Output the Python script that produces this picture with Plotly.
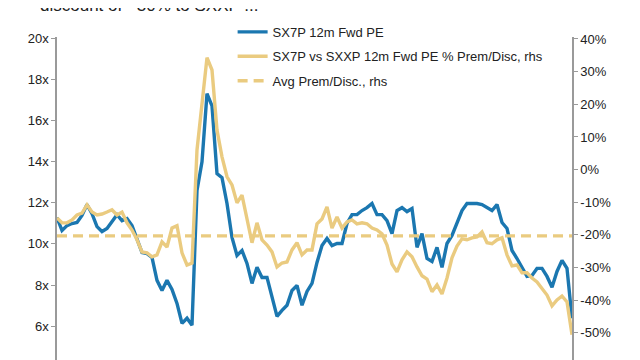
import pandas as pd
import plotly.graph_objects as go

# SX7P 12m forward PE (x)
sx7p_pe = [11.28, 10.65, 10.89, 10.99, 11.04, 11.38, 11.91, 11.47, 10.84, 10.60,
           10.75, 11.09, 11.42, 11.13, 11.23, 10.89, 10.21, 9.58, 9.53, 9.34,
           8.23, 7.74, 8.23, 7.79, 7.11, 6.14, 6.39, 6.05, 12.59, 13.99,
           17.30, 16.70, 13.41, 13.22, 11.96, 10.31, 9.44, 9.68, 9.05, 8.08,
           8.86, 8.37, 8.37, 7.40, 6.48, 6.77, 7.02, 7.74, 7.98, 7.02,
           7.69, 8.08, 9.10, 9.92, 10.26, 9.92, 10.02, 10.02, 10.99, 11.42,
           11.42, 11.62, 11.76, 11.96, 11.42, 11.42, 11.13, 10.50, 11.62, 11.76,
           11.57, 11.72, 9.83, 10.50, 9.29, 9.15, 9.83, 8.86, 10.02, 10.41,
           10.99, 11.62, 11.96, 11.96, 11.96, 11.91, 11.76, 11.62, 11.91, 11.04,
           10.75, 9.68, 9.29, 8.81, 8.42, 8.47, 8.81, 8.81, 8.42, 7.89,
           8.66, 9.20, 8.81, 6.39]

# SX7P vs SXXP 12m forward PE premium/discount (%)
prem_disc = [-14.8, -16.3, -16.3, -15.4, -13.9, -13.3, -10.8, -13.0, -13.9, -13.6,
             -13.0, -12.3, -13.9, -13.0, -16.3, -18.5, -21.5, -25.2, -25.5, -26.7,
             -26.1, -22.1, -23.7, -17.9, -17.2, -25.5, -29.2, -28.6, 6.0, 20.4,
             34.3, 30.5, 12.1, 3.9, -2.2, -4.7, -10.2, -7.8, -14.8, -22.4,
             -16.3, -21.5, -23.1, -25.2, -29.8, -28.6, -28.3, -24.6, -22.4, -26.1,
             -24.6, -24.6, -16.6, -15.1, -11.4, -17.9, -14.5, -17.9, -16.0, -15.4,
             -16.6, -16.3, -16.6, -17.9, -18.5, -19.7, -23.1, -28.9, -31.3, -27.6,
             -25.2, -26.7, -29.8, -32.5, -33.5, -37.4, -35.3, -38.1, -33.2, -27.0,
             -23.4, -21.2, -21.5, -20.9, -20.6, -19.1, -22.4, -22.7, -21.5, -20.9,
             -26.1, -29.5, -29.2, -31.6, -31.6, -33.2, -34.4, -36.2, -38.4, -41.7,
             -39.9, -38.7, -40.5, -50.6]

avg_prem_value = -20.3
avg_prem = [avg_prem_value] * len(prem_disc)

dates = pd.date_range("2004-10-01", "2020-03-20", periods=len(sx7p_pe))

left_ticks = [6, 8, 10, 12, 14, 16, 18, 20]
right_ticks = [-50, -40, -30, -20, -10, 0, 10, 20, 30, 40]

BLUE = "#1B77B0"
GOLD = "#EACB80"
FONT = "Liberation Sans, Arial, sans-serif"

fig = go.Figure()
fig.add_trace(go.Scatter(x=dates, y=sx7p_pe, mode="lines", name="SX7P 12m Fwd PE",
                         line=dict(color=BLUE, width=3.4), legendgroup="a"))
fig.add_trace(go.Scatter(x=dates, y=prem_disc, mode="lines",
                         name="SX7P vs SXXP 12m Fwd PE % Prem/Disc, rhs",
                         line=dict(color=GOLD, width=3.4), yaxis="y2", legendgroup="b"))
fig.add_trace(go.Scatter(x=dates, y=avg_prem, mode="lines", name="Avg Prem/Disc., rhs",
                         line=dict(color=GOLD, width=3.4, dash="10px,6px"), yaxis="y2",
                         legendgroup="c"))

fig.update_layout(
    width=640, height=360, autosize=False,
    margin=dict(l=49, r=76, t=29, b=8),
    paper_bgcolor="white", plot_bgcolor="white",
    font=dict(family=FONT, size=13, color="#222222"),
    showlegend=True,
    legend=dict(x=0.341, y=1.062, xanchor="left", yanchor="top",
                bgcolor="rgba(255,255,255,0)", font=dict(size=13, color="#222222"),
                tracegroupgap=4.5, itemwidth=30),
    xaxis=dict(range=[dates[0], dates[-1]], showticklabels=False, showgrid=False,
               zeroline=False, showline=False, ticks=""),
    yaxis=dict(range=[4.36, 20.05], tickvals=left_ticks, ticktext=[f"{v}x" for v in left_ticks],
               showgrid=False, zeroline=False, showline=True, linecolor="#9a9a9a",
               linewidth=1.5, ticks="outside", ticklen=4, tickcolor="#9a9a9a",
               tickfont=dict(size=13)),
    yaxis2=dict(range=[-58.3, 40.6], tickvals=right_ticks,
                ticktext=[f"{v}%" for v in right_ticks], overlaying="y", side="right",
                showgrid=False, zeroline=False, showline=True, linecolor="#9a9a9a",
                linewidth=1.5, ticks="outside", ticklen=4, tickcolor="#9a9a9a",
                tickfont=dict(size=13)),
    annotations=[dict(text="discount of ~30% to SXXP ...", xref="paper", yref="paper",
                      x=-0.037, y=1.061, xanchor="left", yanchor="bottom",
                      showarrow=False, font=dict(size=17, color="#222222", family=FONT))],
)

fig.write_html("out.html")
